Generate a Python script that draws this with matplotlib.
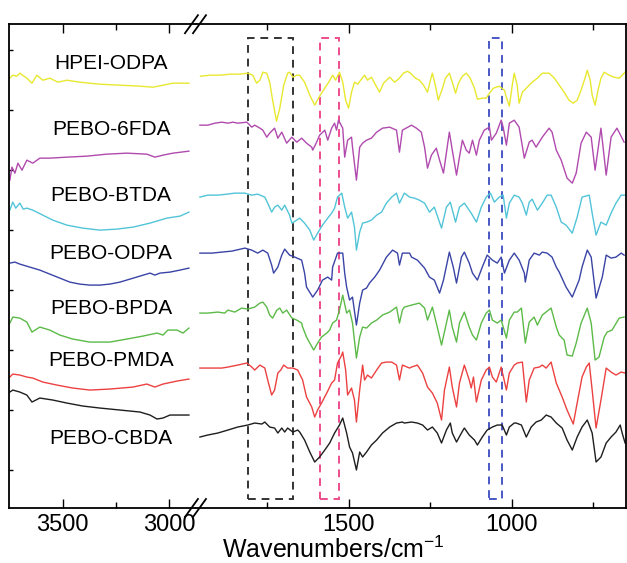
import matplotlib
matplotlib.use("Agg")
import matplotlib.pyplot as plt
from matplotlib.patches import Rectangle

plt.rcParams['font.family'] = ['Liberation Sans', 'DejaVu Sans']

# FTIR spectra, intensity in arbitrary units (curves already stacked)
# left panel: 3750-2900 cm-1, right panel: 1960-650 cm-1

hpei_odpa_left_wn = [3748, 3734, 3715, 3701, 3668, 3644, 3621, 3593, 3560, 3522, 3480, 3419, 3325, 3230, 3136, 3075, 3028, 2981, 2906]
hpei_odpa_left_y = [430, 433, 432, 435, 430, 425, 433, 428, 430, 426, 428, 426, 424, 423, 422, 421, 423, 425, 425]
hpei_odpa_wn = [1954, 1925, 1895, 1864, 1834, 1809, 1794, 1782, 1772, 1763, 1751, 1742, 1733, 1721, 1711, 1699, 1687, 1681, 1671, 1659,
                1650, 1635, 1619, 1604, 1589, 1573, 1561, 1549, 1540, 1528, 1518, 1509, 1500, 1491, 1482, 1472, 1463, 1451, 1442, 1430,
                1417, 1405, 1393, 1374, 1359, 1344, 1332, 1319, 1307, 1295, 1283, 1270, 1258, 1249, 1243, 1234, 1225, 1212, 1203, 1191,
                1182, 1172, 1163, 1151, 1139, 1127, 1114, 1105, 1090, 1078, 1068, 1056, 1038, 1022, 1016, 1007, 998, 992, 983, 977,
                967, 955, 937, 921, 906, 885, 869, 854, 839, 824, 811, 799, 787, 775, 768, 759, 753, 744, 735, 726,
                716, 701, 686, 670, 661, 652]
hpei_odpa_y = [432, 433, 433, 434, 434, 435, 433, 425, 428, 436, 435, 426, 408, 387, 400, 423, 435, 436, 431, 433,
               433, 426, 413, 403, 412, 420, 426, 433, 428, 436, 426, 408, 400, 416, 426, 424, 428, 433, 428, 431,
               423, 416, 425, 431, 426, 430, 435, 437, 434, 430, 428, 423, 416, 428, 435, 423, 408, 420, 430, 435,
               426, 415, 425, 432, 435, 430, 420, 409, 410, 410, 415, 420, 422, 418, 411, 402, 423, 435, 423, 405,
               416, 420, 426, 430, 435, 435, 430, 423, 416, 408, 405, 408, 418, 430, 438, 428, 413, 403, 418, 430,
               436, 433, 431, 430, 433, 436]

pebo_6fda_left_wn = [3748, 3738, 3724, 3710, 3691, 3668, 3640, 3607, 3560, 3480, 3386, 3292, 3198, 3104, 3066, 3028, 2981, 2906]
pebo_6fda_left_y = [328, 341, 335, 345, 338, 348, 345, 350, 350, 351, 352, 354, 355, 354, 351, 353, 355, 357]
pebo_6fda_wn = [1956, 1932, 1910, 1889, 1870, 1855, 1840, 1812, 1797, 1788, 1772, 1763, 1751, 1742, 1727, 1717, 1705, 1690, 1674, 1659,
                1644, 1629, 1613, 1610, 1598, 1589, 1573, 1564, 1552, 1543, 1537, 1531, 1518, 1512, 1503, 1491, 1488, 1476, 1466, 1457,
                1445, 1430, 1414, 1396, 1374, 1353, 1344, 1335, 1307, 1292, 1277, 1267, 1258, 1246, 1231, 1221, 1209, 1191, 1182, 1169,
                1160, 1151, 1139, 1130, 1120, 1108, 1099, 1084, 1068, 1062, 1047, 1032, 1026, 1016, 1007, 992, 977, 961, 946, 937,
                925, 906, 885, 876, 863, 848, 830, 814, 802, 787, 771, 756, 744, 726, 710, 695, 677, 655]
pebo_6fda_y = [383, 383, 385, 386, 385, 386, 385, 386, 381, 383, 380, 378, 371, 375, 380, 370, 376, 365, 371, 366,
               370, 365, 361, 358, 366, 373, 378, 368, 380, 385, 378, 388, 380, 351, 368, 371, 361, 328, 361, 365,
               368, 370, 376, 380, 381, 378, 356, 378, 383, 380, 376, 361, 340, 353, 360, 348, 335, 376, 358, 333,
               351, 368, 358, 355, 368, 353, 368, 378, 381, 368, 375, 388, 381, 363, 385, 388, 381, 350, 366, 368,
               361, 371, 380, 376, 358, 348, 330, 325, 335, 365, 376, 371, 338, 380, 333, 371, 380, 366]

pebo_btda_left_wn = [3748, 3734, 3720, 3701, 3685, 3668, 3640, 3593, 3546, 3480, 3405, 3325, 3245, 3169, 3089, 3010, 2948, 2906]
pebo_btda_left_y = [298, 306, 300, 305, 299, 300, 298, 293, 288, 283, 280, 278, 279, 281, 285, 290, 292, 296]
pebo_btda_wn = [1956, 1932, 1901, 1873, 1849, 1818, 1797, 1779, 1757, 1748, 1736, 1727, 1717, 1705, 1696, 1681, 1674, 1659, 1650, 1635,
                1619, 1607, 1595, 1580, 1564, 1552, 1543, 1534, 1521, 1512, 1503, 1491, 1482, 1476, 1466, 1457, 1445, 1430, 1414, 1399,
                1384, 1368, 1353, 1344, 1335, 1329, 1313, 1298, 1283, 1267, 1252, 1237, 1215, 1200, 1188, 1172, 1160, 1145, 1124, 1108,
                1093, 1078, 1065, 1053, 1038, 1026, 1016, 1007, 992, 977, 967, 955, 946, 937, 921, 906, 891, 879, 863, 848,
                833, 814, 799, 784, 762, 753, 741, 726, 710, 695, 680, 664, 649]
pebo_btda_y = [311, 313, 313, 314, 315, 315, 313, 314, 311, 305, 296, 301, 303, 298, 303, 293, 285, 288, 290, 285,
               278, 268, 275, 283, 290, 295, 300, 311, 315, 301, 290, 296, 281, 258, 276, 285, 286, 288, 293, 296,
               305, 311, 315, 305, 311, 315, 311, 310, 308, 305, 296, 301, 280, 301, 306, 286, 301, 305, 295, 286,
               301, 311, 315, 306, 311, 313, 290, 305, 313, 311, 305, 293, 306, 309, 298, 305, 313, 313, 301, 286,
               283, 275, 291, 311, 313, 295, 273, 286, 283, 295, 305, 313, 313]

pebo_odpa_left_wn = [3748, 3724, 3701, 3654, 3607, 3560, 3513, 3466, 3419, 3372, 3325, 3278, 3230, 3183, 3136, 3089, 3066, 3042, 2995, 2948, 2906]
pebo_odpa_left_y = [245, 246, 244, 241, 238, 234, 230, 226, 224, 223, 223, 224, 226, 229, 232, 235, 233, 235, 236, 238, 240]
pebo_odpa_wn = [1956, 1919, 1889, 1858, 1818, 1797, 1779, 1763, 1748, 1736, 1730, 1717, 1705, 1696, 1681, 1665, 1644, 1635, 1629, 1610,
                1595, 1580, 1564, 1552, 1549, 1534, 1518, 1512, 1506, 1497, 1488, 1476, 1466, 1457, 1445, 1436, 1420, 1405, 1384, 1365,
                1350, 1344, 1335, 1313, 1307, 1289, 1267, 1252, 1237, 1221, 1209, 1191, 1179, 1169, 1154, 1145, 1130, 1120, 1105, 1090,
                1075, 1059, 1044, 1032, 1022, 1007, 992, 977, 961, 958, 946, 931, 915, 906, 891, 876, 863, 854, 833, 814,
                793, 784, 768, 756, 741, 722, 710, 695, 680, 664, 655]
pebo_odpa_y = [255, 255, 256, 257, 260, 258, 255, 258, 255, 243, 235, 241, 253, 259, 253, 251, 248, 235, 221, 211,
               218, 228, 231, 228, 241, 255, 255, 235, 221, 208, 211, 183, 205, 218, 220, 225, 231, 238, 251, 258,
               255, 243, 255, 255, 251, 248, 240, 231, 228, 215, 228, 256, 241, 225, 251, 256, 245, 235, 228, 241,
               253, 248, 245, 251, 235, 248, 255, 248, 235, 226, 248, 255, 253, 256, 255, 251, 241, 236, 221, 211,
               228, 241, 258, 251, 210, 231, 253, 250, 251, 255, 253]

pebo_bpda_left_wn = [3748, 3734, 3701, 3668, 3644, 3607, 3560, 3513, 3452, 3372, 3278, 3198, 3122, 3056, 3028, 3005, 2962, 2934, 2906]
pebo_bpda_left_y = [185, 191, 190, 186, 176, 181, 178, 173, 169, 166, 166, 169, 172, 175, 173, 178, 178, 175, 180]
pebo_bpda_wn = [1956, 1932, 1901, 1880, 1870, 1849, 1828, 1809, 1788, 1772, 1763, 1751, 1742, 1733, 1720, 1711, 1702, 1690, 1674, 1659,
                1644, 1641, 1629, 1619, 1607, 1595, 1583, 1567, 1558, 1549, 1537, 1528, 1518, 1506, 1497, 1488, 1476, 1466, 1457, 1445,
                1430, 1414, 1396, 1374, 1353, 1344, 1335, 1329, 1307, 1283, 1267, 1258, 1243, 1228, 1215, 1200, 1191, 1182, 1169, 1160,
                1145, 1130, 1120, 1108, 1093, 1078, 1068, 1059, 1044, 1032, 1016, 1007, 992, 983, 970, 958, 946, 931, 921, 906,
                879, 863, 854, 839, 830, 814, 802, 787, 768, 756, 744, 732, 716, 707, 692, 670, 655]
pebo_bpda_y = [195, 195, 196, 195, 198, 196, 200, 199, 201, 205, 206, 201, 193, 190, 198, 200, 195, 198, 190, 188,
               185, 181, 171, 165, 158, 165, 171, 175, 178, 185, 188, 198, 213, 195, 198, 185, 150, 171, 181, 180,
               185, 188, 193, 196, 201, 185, 198, 201, 203, 205, 200, 188, 201, 181, 163, 185, 198, 181, 166, 185,
               196, 181, 173, 168, 185, 195, 198, 188, 185, 188, 170, 188, 196, 196, 200, 165, 186, 191, 183, 193,
               200, 181, 173, 168, 153, 152, 165, 185, 200, 185, 148, 151, 171, 176, 178, 190, 191]

pebo_pmda_left_wn = [3748, 3734, 3701, 3668, 3640, 3593, 3527, 3452, 3372, 3278, 3169, 3104, 3066, 3028, 2962, 2906]
pebo_pmda_left_y = [131, 134, 133, 131, 130, 126, 123, 120, 118, 119, 121, 124, 121, 124, 127, 129]
pebo_pmda_wn = [1956, 1919, 1889, 1870, 1840, 1812, 1797, 1788, 1772, 1757, 1748, 1736, 1727, 1717, 1708, 1699, 1687, 1671, 1656, 1641,
                1629, 1613, 1604, 1595, 1583, 1567, 1552, 1543, 1534, 1521, 1518, 1509, 1503, 1491, 1482, 1476, 1466, 1457, 1451, 1442,
                1430, 1414, 1399, 1384, 1368, 1353, 1344, 1335, 1313, 1307, 1289, 1273, 1258, 1243, 1228, 1215, 1206, 1191, 1182, 1169,
                1160, 1145, 1130, 1124, 1117, 1108, 1093, 1078, 1068, 1059, 1047, 1032, 1016, 1007, 992, 983, 967, 955, 946, 931,
                915, 906, 894, 879, 863, 845, 830, 811, 799, 784, 771, 762, 753, 741, 726, 710, 695, 680, 664, 652]
pebo_pmda_y = [140, 140, 140, 141, 143, 145, 141, 138, 143, 140, 128, 113, 118, 135, 138, 143, 140, 140, 138, 128,
               111, 101, 91, 98, 105, 115, 125, 128, 145, 153, 156, 138, 113, 120, 108, 86, 118, 143, 128, 133,
               130, 138, 145, 146, 146, 143, 128, 143, 140, 141, 143, 135, 121, 115, 105, 88, 118, 141, 121, 101,
               125, 143, 128, 120, 131, 106, 128, 138, 141, 131, 126, 141, 118, 135, 143, 145, 146, 106, 128, 140,
               141, 143, 140, 146, 125, 111, 98, 84, 105, 131, 141, 145, 118, 80, 108, 140, 136, 133, 136, 135]

pebo_cbda_left_wn = [3748, 3734, 3701, 3668, 3644, 3607, 3546, 3480, 3405, 3325, 3230, 3136, 3089, 3056, 3028, 2995, 2948, 2906]
pebo_cbda_left_y = [116, 118, 116, 113, 106, 110, 108, 105, 102, 100, 98, 96, 93, 89, 90, 93, 93, 93]
pebo_cbda_wn = [1956, 1932, 1901, 1870, 1840, 1809, 1788, 1766, 1757, 1742, 1727, 1717, 1705, 1696, 1687, 1671, 1656, 1650, 1635, 1619,
                1604, 1589, 1573, 1558, 1543, 1528, 1518, 1506, 1497, 1488, 1476, 1466, 1457, 1445, 1430, 1414, 1396, 1374, 1353, 1335,
                1329, 1307, 1289, 1273, 1258, 1243, 1228, 1215, 1200, 1188, 1182, 1169, 1154, 1145, 1130, 1114, 1105, 1090, 1075, 1059,
                1044, 1029, 1016, 1007, 992, 986, 970, 955, 940, 925, 909, 894, 879, 863, 845, 830, 814, 799, 784, 768,
                753, 741, 726, 710, 695, 680, 667, 661, 652]
pebo_cbda_y = [71, 73, 75, 78, 81, 83, 85, 84, 86, 81, 80, 75, 80, 76, 80, 76, 78, 76, 68, 56,
               46, 51, 58, 65, 75, 83, 90, 75, 61, 55, 38, 56, 51, 56, 63, 68, 75, 81, 85, 86,
               85, 86, 85, 83, 78, 81, 75, 65, 78, 85, 75, 66, 75, 80, 73, 68, 63, 71, 78, 81,
               83, 83, 73, 81, 85, 85, 83, 71, 81, 86, 88, 93, 91, 85, 80, 68, 58, 71, 81, 88,
               75, 46, 51, 65, 71, 76, 83, 75, 65]

names = ['HPEI-ODPA', 'PEBO-6FDA', 'PEBO-BTDA', 'PEBO-ODPA', 'PEBO-BPDA', 'PEBO-PMDA', 'PEBO-CBDA']
label_y = [445, 379, 313, 255, 200, 148, 70]
colors = ['#e8e830', '#b04aae', '#52c4d8', '#3a44a6', '#5cba48', '#ec4141', '#1e1e1e']

left_data = [(hpei_odpa_left_wn, hpei_odpa_left_y), (pebo_6fda_left_wn, pebo_6fda_left_y),
             (pebo_btda_left_wn, pebo_btda_left_y), (pebo_odpa_left_wn, pebo_odpa_left_y),
             (pebo_bpda_left_wn, pebo_bpda_left_y), (pebo_pmda_left_wn, pebo_pmda_left_y),
             (pebo_cbda_left_wn, pebo_cbda_left_y)]
right_data = [(hpei_odpa_wn, hpei_odpa_y), (pebo_6fda_wn, pebo_6fda_y), (pebo_btda_wn, pebo_btda_y),
              (pebo_odpa_wn, pebo_odpa_y), (pebo_bpda_wn, pebo_bpda_y), (pebo_pmda_wn, pebo_pmda_y),
              (pebo_cbda_wn, pebo_cbda_y)]

# dashed boxes (wavenumber range)
boxes = [(1810, 1670, '#333333'), (1587, 1528, '#ee4d8c'), (1069, 1029, '#4a58c4')]

fig = plt.figure(figsize=(6.27, 5.63), dpi=100)
ax1 = fig.add_axes([0.015, 0.0977, 0.2975, 0.8593])
ax2 = fig.add_axes([0.3126, 0.0977, 0.6854, 0.8593])

for (x, y), c in zip(left_data, colors):
    ax1.plot(x, y, color=c, lw=1.0)
for (x, y), c in zip(right_data, colors):
    ax2.plot(x, y, color=c, lw=1.0)

for name, ly in zip(names, label_y):
    ax1.text(3272, ly, name, ha='center', va='center', fontsize=15)

for x0, x1, c in boxes:
    ax2.add_patch(Rectangle((x0, 9), x1 - x0, 461, fill=False, edgecolor=c,
                            lw=1.4, linestyle=(0, (4, 3))))

ax1.set_xlim(3750, 2873)
ax2.set_xlim(1968, 650)
for ax in (ax1, ax2):
    ax.set_ylim(0, 484)
    for s in ax.spines.values():
        s.set_linewidth(1.3)
    ax.tick_params(axis='x', which='both', direction='in', top=True, labelsize=17, pad=4, width=1)
    ax.tick_params(axis='x', which='major', length=6.5)
    ax.tick_params(axis='x', which='minor', length=4.5)

ax1.spines['right'].set_visible(False)
ax2.spines['left'].set_visible(False)

ax1.set_xticks([3500, 3000])
ax1.set_xticks([3250], minor=True)
ax2.set_xticks([1500, 1000])
ax2.set_xticks([1750, 1250, 750], minor=True)

ax1.set_yticks([38, 98, 158, 218, 278, 338, 398, 458])
ax1.tick_params(axis='y', direction='in', length=3, width=1, labelleft=False)
ax2.set_yticks([])

# axis break marks
for yb in (0.0977, 0.957):
    for dx in (0.0, 0.0128):
        fig.add_artist(plt.Line2D([0.2950 + dx, 0.3157 + dx], [yb - 0.016, yb + 0.016],
                                  color='black', lw=1.3, transform=fig.transFigure))

fig.text(0.531, 0.008, 'Wavenumbers/cm$^{\\mathregular{-1}}$', ha='center', va='baseline', fontsize=18)

fig.savefig('out.png', dpi=100)
